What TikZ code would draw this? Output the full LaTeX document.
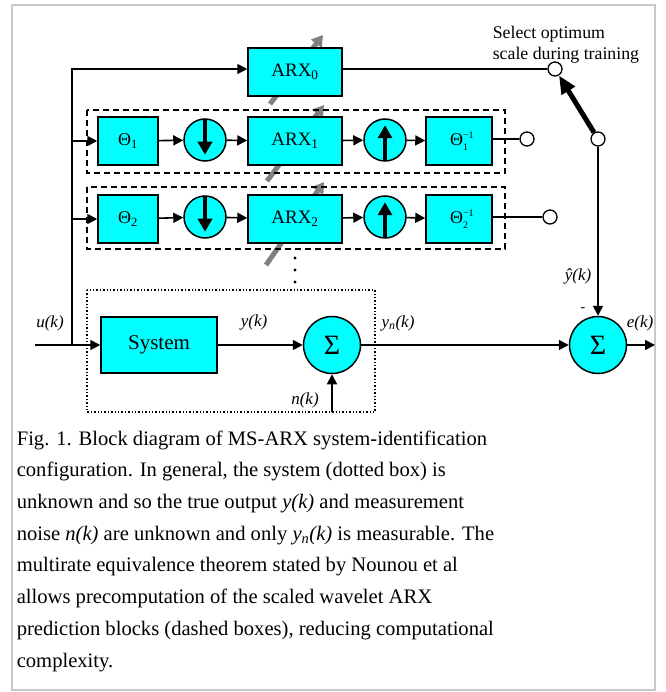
\documentclass[tikz,border=0pt]{standalone}
\usepackage{fontspec}
\setmainfont{Liberation Serif}
\usetikzlibrary{arrows.meta,positioning}
\definecolor{BlockCyan}{RGB}{0,255,255}
\definecolor{FrameGray}{RGB}{200,200,200}
\definecolor{KnobGray}{RGB}{128,128,128}
\newcommand{\thinv}[1]{Θ\raisebox{7pt}{\rlap{\fontsize{10}{10}\selectfont −1}}\raisebox{-5pt}{\fontsize{10}{10}\selectfont #1}\hspace{6pt}}

\begin{document}
\begin{tikzpicture}[x=1pt,y=-1pt,line width=1.6pt,>={Triangle[length=10pt,width=10pt]},
    blk/.style={rectangle,draw,fill=BlockCyan,line width=1.5pt,minimum height=48pt,inner sep=0pt},
    rsc/.style={circle,draw,fill=BlockCyan,line width=1.5pt,minimum size=42pt,inner sep=0pt},
    sumc/.style={circle,draw,fill=BlockCyan,line width=1.5pt,minimum size=57pt,inner sep=0pt,font=\fontsize{28}{28}\selectfont},
    port/.style={circle,draw,fill=white,line width=1.3pt,minimum size=14pt,inner sep=0pt},
    lbl/.style={font=\fontsize{17}{17}\selectfont\itshape,inner sep=0pt},
    fat/.style={line width=4pt,-{Triangle[length=13pt,width=14pt]}},
    knob/.style={KnobGray,line width=5pt,-{Triangle[length=11pt,width=13pt]}}]
    \useasboundingbox (0,0) rectangle (665,692);
    \draw[FrameGray,line width=2pt] (12,5) rectangle (655,690);

    % gray tuning arrows (behind the ARX blocks)
    \draw[knob] (270,104) -- (323,35);
    \draw[knob] (267,181) -- (324,105);
    \draw[knob] (266,265) -- (324,182);

    % dashed wavelet blocks and dotted system
    \draw[dashed,line width=1.4pt,dash pattern=on 6pt off 4pt] (87,110) rectangle (505,173);
    \draw[dashed,line width=1.4pt,dash pattern=on 6pt off 4pt] (87,187) rectangle (505,249);
    \draw[dotted,line width=1.4pt] (87,290) rectangle (375,412);

    \node[blk,minimum width=94pt,font=\fontsize{19}{19}\selectfont] (arx0) at (295,72) {ARX\textsubscript{0}};

    \node[blk,minimum width=60pt,font=\fontsize{18}{18}\selectfont] (th1) at (128,141) {Θ\textsubscript{1}};
    \node[rsc] (dn1) at (205,140) {};
    \node[blk,minimum width=94pt,font=\fontsize{19}{19}\selectfont] (arx1) at (295,141) {ARX\textsubscript{1}};
    \node[rsc] (up1) at (385,140) {};
    \node[blk,minimum width=66pt,font=\fontsize{18}{18}\selectfont] (ti1) at (459,141) {\thinv{1}};
    \node[port] (t1) at (527,139) {};

    \node[blk,minimum width=60pt,font=\fontsize{18}{18}\selectfont] (th2) at (128,219) {Θ\textsubscript{2}};
    \node[rsc] (dn2) at (205,217) {};
    \node[blk,minimum width=94pt,font=\fontsize{19}{19}\selectfont] (arx2) at (295,219) {ARX\textsubscript{2}};
    \node[rsc] (up2) at (385,217) {};
    \node[blk,minimum width=66pt,font=\fontsize{18}{18}\selectfont] (ti2) at (459,219) {\thinv{2}};
    \node[port] (t2) at (550,217) {};

    \node[port] (t0) at (555,69) {};
    \node[port] (sw) at (598,139) {};

    \node[blk,minimum width=116pt,minimum height=56pt,font=\fontsize{21}{21}\selectfont] (sys) at (159,345) {System};
    \node[sumc] (s1) at (332,345) {Σ};
    \node[sumc] (s2) at (598,345) {Σ};

    \coordinate (uin) at (35,345);
    \coordinate (bus) at (72,345);
    \coordinate (nin) at (332,412);
    \coordinate (eout) at (655,345);

    % up / down sampling symbols
    \draw[fat] ([yshift=-1pt]dn1.north) -- ([yshift=7pt]dn1.south);
    \draw[fat] ([yshift=-1pt]dn2.north) -- ([yshift=7pt]dn2.south);
    \draw[fat] ([yshift=1pt]up1.south) -- ([yshift=-7pt]up1.north);
    \draw[fat] ([yshift=1pt]up2.south) -- ([yshift=-7pt]up2.north);

    % signal paths
    \draw[->] (uin) -- (sys);
    \draw[->] (bus) |- (arx0.west |- t0);
    \draw[->] (bus |- th1) -- (th1);
    \draw[->] (bus |- th2) -- (th2);
    \draw[->] (th1) -- (dn1);
    \draw[->] (dn1) -- (arx1);
    \draw[->] (arx1) -- (up1);
    \draw[->] (up1) -- (ti1);
    \draw (ti1.east |- t1) -- (t1);
    \draw[->] (th2) -- (dn2);
    \draw[->] (dn2) -- (arx2);
    \draw[->] (arx2) -- (up2);
    \draw[->] (up2) -- (ti2);
    \draw (ti2.east |- t2) -- (t2);
    \draw (arx0.east |- t0) -- (t0);
    \draw[line width=5pt,-{Triangle[length=18pt,width=15pt]}] (sw) -- (t0);
    \draw[->] (sw) -- (s2);
    \draw[->] (sys) -- (s1);
    \draw[->] (nin) -- (s1);
    \draw[->] (s1) -- (s2);
    \draw[->] (s2) -- (eout);

    % dots between the scales
    \foreach \dy in {258,270,282}
        \fill (295,\dy) circle (1.6pt);

    % labels
    \node[lbl] (ulab) at (50,323) {u(k)};
    \node[lbl] (ylab) at (254,322) {y(k)};
    \node[lbl] (ynlab) at (398,323) {y\textsubscript{n}(k)};
    \node[lbl] (nlab) at (305,400) {n(k)};
    \node[lbl] (yhlab) at (578,276) {ŷ(k)};
    \node[inner sep=0pt,font=\fontsize{14}{14}\selectfont] (minus) at (583,310) {-};
    \node[lbl] (elab) at (640,323) {e(k)};
    \node[anchor=base west,align=left,inner sep=0pt,font=\fontsize{17.8}{21}\selectfont] (sel) at (492,60)
        {Select optimum\\scale during training};

    % caption
    \node[anchor=base west,align=left,inner sep=0pt,font=\fontsize{20.6}{31.7}\selectfont] (cap) at (16,667)
        {Fig. 1. Block diagram of MS-ARX system-identification\\
         configuration. In general, the system (dotted box) is\\
         unknown and so the true output \textit{y(k)} and measurement\\
         noise \textit{n(k)} are unknown and only \textit{y\textsubscript{n}(k)} is measurable. The\\
         multirate equivalence theorem stated by Nounou et al\\
         allows precomputation of the scaled wavelet ARX\\
         prediction blocks (dashed boxes), reducing computational\\
         complexity.};
\end{tikzpicture}
\end{document}
